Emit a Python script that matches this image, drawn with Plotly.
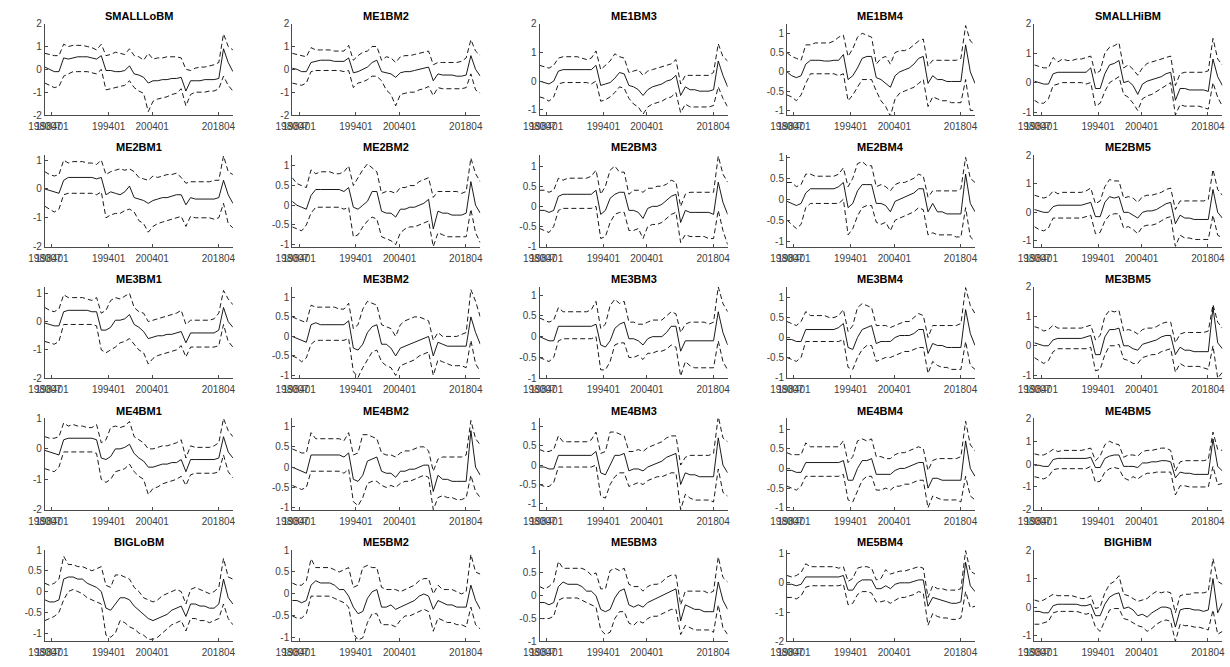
import plotly.graph_objects as go

# time index along the sample (common grid for all portfolios)
t_index = [0, 2.5, 5, 7.5, 10, 12.5, 15, 17.5, 20, 22.5, 25, 27.5, 30, 32.5, 35, 37.5, 40,
           42.5, 45, 47.5, 50, 52.5, 55, 57.5, 60, 62.5, 65, 67.5, 70, 72.5, 75, 77.5, 80,
           82.5, 85, 87.5, 90, 92.5, 95, 97.5, 100]
tick_pos = [0, 3.7, 33.9, 57.1, 92.3]
tick_labels = ["198007", "198401", "199401", "200401", "201804"]

titles = ["SMALLLoBM", "ME1BM2", "ME1BM3", "ME1BM4", "SMALLHiBM",
          "ME2BM1", "ME2BM2", "ME2BM3", "ME2BM4", "ME2BM5",
          "ME3BM1", "ME3BM2", "ME3BM3", "ME3BM4", "ME3BM5",
          "ME4BM1", "ME4BM2", "ME4BM3", "ME4BM4", "ME4BM5",
          "BIGLoBM", "ME5BM2", "ME5BM3", "ME5BM4", "BIGHiBM"]

SMALLLoBM_mid = [0.1, 0.0, -0.1, -0.1, 0.5, 0.45, 0.5, 0.55, 0.55, 0.55, 0.5, 0.45, 0.6, -0.05, -0.05, -0.1, -0.1, -0.05, 0.15, -0.2, -0.25, -0.35, -0.6, -0.5, -0.5, -0.45, -0.45, -0.4, -0.4, -0.35, -0.95, -0.5, -0.5, -0.5, -0.45, -0.45, -0.45, -0.4, 0.9, 0.3, -0.1]
SMALLLoBM_up = [0.7, 0.65, 0.6, 0.6, 1.1, 1.0, 1.05, 1.05, 1.05, 1.0, 0.95, 0.85, 1.1, 0.6, 0.65, 0.75, 0.7, 0.65, 0.9, 0.6, 0.55, 0.4, 0.7, 0.45, 0.5, 0.5, 0.55, 0.55, 0.55, 0.5, 0.0, -0.05, 0.05, 0.1, 0.1, 0.15, 0.2, 0.3, 1.55, 1.0, 0.85]
SMALLLoBM_lo = [-0.6, -0.7, -0.8, -0.75, -0.3, -0.2, -0.1, -0.1, -0.1, -0.1, -0.15, -0.2, 0.0, -0.9, -0.85, -0.8, -0.75, -0.7, -0.5, -0.8, -0.95, -1.05, -1.85, -1.4, -1.3, -1.25, -1.2, -1.1, -1.05, -0.85, -1.6, -1.1, -1.0, -1.0, -1.0, -0.95, -0.95, -0.85, -0.3, -0.7, -0.95]

ME1BM2_mid = [0.05, 0.0, -0.1, -0.1, 0.3, 0.35, 0.4, 0.4, 0.4, 0.35, 0.35, 0.35, 0.5, -0.15, -0.1, 0.0, 0.1, 0.3, 0.4, -0.1, -0.15, -0.2, -0.35, -0.15, -0.1, -0.1, -0.05, 0.0, 0.05, 0.1, -0.5, -0.2, -0.25, -0.25, -0.25, -0.3, -0.3, -0.25, 0.6, 0.0, -0.3]
ME1BM2_up = [0.7, 0.65, 0.6, 0.55, 0.95, 0.85, 0.85, 0.85, 0.85, 0.8, 0.8, 0.8, 1.05, 0.4, 0.6, 0.75, 0.8, 1.0, 1.0, 0.4, 0.55, 0.5, 0.3, 0.55, 0.6, 0.6, 0.65, 0.7, 0.75, 0.8, 0.2, 0.3, 0.3, 0.3, 0.3, 0.3, 0.35, 0.5, 1.3, 0.8, 0.6]
ME1BM2_lo = [-0.6, -0.65, -0.7, -0.6, -0.1, -0.05, -0.05, -0.05, -0.05, -0.05, -0.05, -0.1, -0.05, -0.8, -0.6, -0.55, -0.45, -0.3, -0.3, -0.5, -0.9, -1.1, -1.6, -1.1, -1.05, -1.0, -1.0, -0.9, -0.85, -0.75, -1.15, -0.8, -0.85, -0.85, -0.85, -0.85, -0.85, -0.8, -0.2, -0.9, -1.05]

ME1BM3_mid = [0.0, -0.05, -0.1, 0.0, 0.35, 0.4, 0.4, 0.4, 0.4, 0.4, 0.4, 0.4, 0.55, -0.15, -0.1, -0.05, 0.1, 0.3, 0.25, -0.15, -0.2, -0.3, -0.5, -0.3, -0.2, -0.15, -0.1, 0.0, 0.05, 0.2, -0.5, -0.2, -0.3, -0.3, -0.35, -0.35, -0.35, -0.3, 0.7, 0.2, -0.2]
ME1BM3_up = [0.55, 0.5, 0.45, 0.55, 0.8, 0.85, 0.85, 0.85, 0.85, 0.8, 0.75, 0.8, 1.05, 0.4, 0.55, 0.7, 0.95, 0.85, 0.8, 0.3, 0.35, 0.4, 0.2, 0.35, 0.4, 0.45, 0.5, 0.55, 0.6, 0.75, -0.1, 0.2, 0.2, 0.2, 0.2, 0.2, 0.2, 0.3, 1.3, 0.85, 0.7]
ME1BM3_lo = [-0.55, -0.6, -0.7, -0.55, -0.1, -0.05, -0.05, -0.05, -0.05, -0.05, -0.05, -0.1, 0.0, -0.7, -0.65, -0.55, -0.4, -0.2, -0.25, -0.6, -0.8, -0.9, -1.15, -0.9, -0.8, -0.75, -0.7, -0.6, -0.55, -0.4, -1.1, -0.8, -0.9, -0.9, -0.9, -0.9, -0.9, -0.85, -0.2, -0.6, -0.9]

ME1BM4_mid = [0.0, -0.1, -0.15, -0.1, 0.2, 0.3, 0.3, 0.3, 0.28, 0.28, 0.3, 0.3, 0.45, -0.2, -0.1, 0.1, 0.35, 0.4, 0.4, -0.15, -0.2, -0.3, -0.4, -0.1, 0.0, 0.05, 0.1, 0.2, 0.35, 0.4, -0.3, -0.1, -0.2, -0.2, -0.25, -0.25, -0.25, -0.25, 0.7, 0.0, -0.3]
ME1BM4_up = [0.5, 0.4, 0.35, 0.3, 0.7, 0.7, 0.75, 0.75, 0.75, 0.75, 0.8, 0.9, 0.95, 0.4, 0.6, 0.9, 1.0, 0.95, 0.9, 0.2, 0.35, 0.4, 0.2, 0.5, 0.55, 0.55, 0.6, 0.7, 0.8, 0.85, 0.15, 0.3, 0.3, 0.3, 0.3, 0.3, 0.3, 0.35, 1.2, 0.8, 0.7]
ME1BM4_lo = [-0.6, -0.65, -0.75, -0.6, -0.3, -0.05, -0.05, -0.05, -0.05, -0.05, -0.05, -0.1, -0.05, -0.75, -0.6, -0.4, -0.2, -0.2, -0.2, -0.5, -0.75, -0.9, -1.15, -0.7, -0.55, -0.5, -0.45, -0.4, -0.3, -0.2, -0.9, -0.65, -0.7, -0.75, -0.75, -0.8, -0.8, -0.8, -0.2, -1.0, -1.0]

SMALLHiBM_mid = [0.05, 0.0, -0.05, -0.05, 0.3, 0.35, 0.35, 0.35, 0.35, 0.35, 0.35, 0.35, 0.5, -0.2, -0.2, 0.3, 0.6, 0.65, 0.75, 0.0, 0.05, -0.1, -0.4, -0.05, 0.05, 0.1, 0.15, 0.2, 0.3, 0.35, -0.6, -0.2, -0.2, -0.25, -0.25, -0.25, -0.25, -0.3, 0.8, 0.2, -0.1]
SMALLHiBM_up = [0.6, 0.55, 0.5, 0.5, 0.85, 0.7, 0.8, 0.75, 0.75, 0.8, 0.8, 0.85, 0.9, 0.3, 0.4, 1.0, 1.2, 1.25, 1.35, 0.5, 0.6, 0.45, 0.25, 0.5, 0.65, 0.7, 0.75, 0.8, 0.85, 0.9, -0.1, 0.3, 0.35, 0.35, 0.35, 0.35, 0.35, 0.4, 1.5, 0.8, 0.6]
SMALLHiBM_lo = [-0.6, -0.7, -0.7, -0.55, -0.1, -0.05, 0.0, 0.0, 0.0, 0.0, 0.0, -0.05, 0.0, -0.8, -0.7, -0.3, 0.0, 0.1, 0.2, -0.4, -0.5, -0.7, -0.95, -0.55, -0.45, -0.4, -0.3, -0.2, -0.1, 0.0, -1.1, -0.75, -0.8, -0.8, -0.8, -0.8, -0.85, -0.9, 0.0, -0.5, -0.8]

ME2BM1_mid = [0.0, -0.05, -0.1, -0.15, 0.3, 0.4, 0.4, 0.4, 0.4, 0.4, 0.4, 0.35, 0.4, -0.2, -0.1, -0.15, -0.2, -0.1, 0.1, -0.3, -0.35, -0.4, -0.5, -0.4, -0.35, -0.3, -0.3, -0.25, -0.2, -0.2, -0.55, -0.3, -0.35, -0.35, -0.35, -0.35, -0.35, -0.3, 0.3, -0.2, -0.5]
ME2BM1_up = [0.6, 0.5, 0.45, 0.5, 1.0, 0.9, 0.95, 0.95, 0.95, 0.9, 0.9, 0.85, 1.0, 0.5, 0.6, 0.65, 0.7, 0.65, 0.7, 0.6, 0.4, 0.35, 0.3, 0.45, 0.4, 0.45, 0.5, 0.5, 0.55, 0.4, 0.2, 0.25, 0.25, 0.25, 0.25, 0.25, 0.3, 0.3, 1.15, 0.6, 0.5]
ME2BM1_lo = [-0.6, -0.7, -0.8, -0.7, -0.2, -0.15, -0.15, -0.15, -0.15, -0.15, -0.15, -0.2, -0.1, -1.0, -0.9, -0.85, -0.85, -0.75, -0.7, -0.8, -1.1, -1.2, -1.5, -1.3, -1.2, -1.15, -1.1, -1.05, -1.0, -0.95, -1.3, -0.95, -1.0, -1.0, -1.0, -1.0, -1.05, -1.0, -0.5, -1.2, -1.35]

ME2BM2_mid = [0.1, 0.0, -0.05, -0.1, 0.25, 0.4, 0.4, 0.4, 0.4, 0.4, 0.4, 0.35, 0.45, -0.05, -0.1, 0.0, 0.1, 0.35, 0.35, -0.15, -0.2, -0.2, -0.3, -0.1, -0.1, -0.05, -0.05, 0.0, 0.05, 0.15, -0.6, -0.15, -0.2, -0.2, -0.25, -0.25, -0.25, -0.2, 0.6, 0.0, -0.2]
ME2BM2_up = [0.7, 0.55, 0.5, 0.45, 0.9, 0.8, 0.85, 0.85, 0.85, 0.8, 0.8, 0.85, 1.0, 0.5, 0.7, 0.9, 1.05, 0.95, 0.85, 0.3, 0.35, 0.35, 0.3, 0.45, 0.45, 0.5, 0.5, 0.6, 0.65, 0.7, 0.2, 0.35, 0.35, 0.35, 0.35, 0.35, 0.3, 0.35, 1.2, 0.8, 0.6]
ME2BM2_lo = [-0.55, -0.6, -0.65, -0.5, -0.2, -0.05, -0.05, -0.05, -0.05, -0.05, -0.05, -0.1, -0.05, -0.8, -0.75, -0.55, -0.4, -0.3, -0.35, -0.8, -0.85, -0.9, -1.0, -0.7, -0.6, -0.55, -0.55, -0.5, -0.45, -0.4, -1.05, -0.7, -0.75, -0.8, -0.8, -0.8, -0.8, -0.8, -0.1, -0.7, -0.95]

ME2BM3_mid = [-0.1, -0.1, -0.15, -0.1, 0.25, 0.3, 0.3, 0.3, 0.3, 0.3, 0.3, 0.3, 0.4, -0.2, -0.1, 0.2, 0.3, 0.35, 0.35, -0.1, -0.1, -0.15, -0.3, -0.05, 0.0, 0.0, 0.05, 0.15, 0.25, 0.3, -0.4, -0.1, -0.15, -0.15, -0.15, -0.15, -0.15, -0.2, 0.6, 0.1, -0.2]
ME2BM3_up = [0.4, 0.4, 0.35, 0.4, 0.7, 0.65, 0.7, 0.7, 0.7, 0.7, 0.7, 0.75, 0.9, 0.3, 0.5, 0.9, 1.0, 0.85, 0.85, 0.3, 0.4, 0.4, 0.35, 0.45, 0.45, 0.5, 0.5, 0.55, 0.65, 0.6, 0.0, 0.3, 0.35, 0.35, 0.35, 0.35, 0.35, 0.35, 1.25, 0.8, 0.6]
ME2BM3_lo = [-0.55, -0.6, -0.65, -0.5, -0.1, -0.05, -0.05, -0.05, -0.05, -0.05, -0.05, -0.05, 0.0, -0.8, -0.75, -0.4, -0.2, -0.15, -0.15, -0.6, -0.6, -0.55, -0.8, -0.5, -0.45, -0.45, -0.4, -0.3, -0.2, -0.15, -0.9, -0.7, -0.75, -0.75, -0.75, -0.75, -0.8, -0.8, -0.1, -0.6, -0.95]

ME2BM4_mid = [-0.05, -0.1, -0.15, -0.1, 0.15, 0.25, 0.25, 0.25, 0.25, 0.25, 0.25, 0.3, 0.4, -0.2, -0.1, 0.2, 0.35, 0.35, 0.35, -0.1, -0.1, -0.15, -0.3, -0.05, 0.0, 0.05, 0.1, 0.15, 0.25, 0.25, -0.3, -0.1, -0.3, -0.3, -0.35, -0.35, -0.35, -0.35, 0.6, -0.1, -0.3]
ME2BM4_up = [0.4, 0.4, 0.3, 0.35, 0.6, 0.6, 0.55, 0.55, 0.55, 0.55, 0.55, 0.6, 0.75, 0.3, 0.5, 0.85, 0.9, 0.8, 0.8, 0.3, 0.35, 0.3, 0.2, 0.35, 0.4, 0.4, 0.45, 0.5, 0.6, 0.55, 0.05, 0.2, 0.2, 0.2, 0.2, 0.2, 0.2, 0.25, 1.0, 0.5, 0.4]
ME2BM4_lo = [-0.5, -0.6, -0.7, -0.6, -0.2, -0.1, -0.1, -0.1, -0.1, -0.1, -0.1, -0.1, 0.0, -0.85, -0.7, -0.4, -0.2, -0.15, -0.15, -0.55, -0.6, -0.55, -0.75, -0.5, -0.45, -0.4, -0.35, -0.3, -0.2, -0.25, -0.85, -0.8, -0.85, -0.85, -0.85, -0.85, -0.9, -0.9, -0.2, -0.9, -1.0]

ME2BM5_mid = [0.1, 0.05, 0.0, 0.0, 0.2, 0.25, 0.25, 0.25, 0.25, 0.25, 0.25, 0.3, 0.35, -0.15, -0.15, 0.35, 0.55, 0.5, 0.55, 0.0, 0.0, -0.1, -0.2, 0.0, 0.05, 0.05, 0.1, 0.2, 0.3, 0.35, -0.4, -0.1, -0.2, -0.2, -0.25, -0.25, -0.25, -0.25, 0.8, 0.0, -0.2]
ME2BM5_up = [0.6, 0.55, 0.5, 0.55, 0.75, 0.65, 0.7, 0.7, 0.7, 0.7, 0.7, 0.75, 0.85, 0.3, 0.4, 0.9, 1.15, 1.1, 1.1, 0.5, 0.55, 0.5, 0.35, 0.55, 0.6, 0.6, 0.65, 0.7, 0.8, 0.85, 0.1, 0.4, 0.4, 0.4, 0.4, 0.4, 0.4, 0.45, 1.5, 0.8, 0.6]
ME2BM5_lo = [-0.5, -0.6, -0.65, -0.55, -0.2, -0.2, -0.2, -0.2, -0.2, -0.2, -0.2, -0.15, -0.1, -0.75, -0.7, -0.3, -0.1, -0.05, -0.05, -0.55, -0.5, -0.6, -0.75, -0.5, -0.45, -0.45, -0.4, -0.3, -0.2, -0.15, -1.2, -0.8, -0.9, -0.9, -0.95, -0.95, -0.95, -0.95, -0.1, -0.8, -0.9]

ME3BM1_mid = [-0.05, -0.1, -0.15, -0.15, 0.35, 0.4, 0.4, 0.4, 0.4, 0.4, 0.35, 0.35, -0.3, -0.3, -0.2, 0.05, 0.05, 0.1, 0.25, -0.1, -0.2, -0.35, -0.6, -0.55, -0.5, -0.5, -0.45, -0.45, -0.4, -0.35, -0.75, -0.4, -0.4, -0.4, -0.4, -0.4, -0.4, -0.3, 0.5, 0.0, -0.2]
ME3BM1_up = [0.5, 0.4, 0.35, 0.45, 0.95, 0.85, 0.85, 0.85, 0.85, 0.8, 0.75, 0.85, 0.3, 0.4, 0.75, 0.85, 0.8, 0.9, 1.0, 0.5, 0.35, 0.3, 0.0, 0.05, 0.1, 0.15, 0.2, 0.25, 0.3, 0.4, -0.1, 0.05, 0.05, 0.05, 0.05, 0.05, 0.1, 0.3, 1.1, 0.8, 0.6]
ME3BM1_lo = [-0.7, -0.75, -0.8, -0.7, -0.1, -0.1, -0.1, -0.1, -0.1, -0.1, -0.1, -0.15, -1.0, -1.1, -1.0, -0.9, -0.75, -0.7, -0.6, -0.8, -1.0, -1.1, -1.5, -1.3, -1.2, -1.15, -1.1, -1.05, -1.0, -0.85, -1.25, -0.9, -0.9, -0.9, -0.9, -0.9, -0.9, -0.85, -0.1, -0.7, -0.9]

ME3BM2_mid = [0.0, -0.05, -0.1, -0.15, 0.3, 0.35, 0.3, 0.3, 0.3, 0.3, 0.3, 0.3, 0.4, -0.3, -0.35, -0.2, 0.1, 0.25, 0.3, -0.2, -0.2, -0.3, -0.5, -0.3, -0.25, -0.2, -0.15, -0.1, -0.05, 0.0, -0.5, -0.15, -0.2, -0.25, -0.25, -0.25, -0.25, -0.25, 0.5, 0.1, -0.2]
ME3BM2_up = [0.5, 0.45, 0.4, 0.35, 0.8, 0.75, 0.75, 0.75, 0.75, 0.75, 0.7, 0.7, 0.85, 0.2, 0.3, 0.7, 0.9, 0.85, 0.8, 0.3, 0.25, 0.2, 0.0, 0.3, 0.4, 0.45, 0.5, 0.5, 0.45, 0.4, -0.1, 0.1, 0.0, 0.0, 0.0, 0.0, 0.05, 0.1, 1.2, 0.9, 0.5]
ME3BM2_lo = [-0.5, -0.55, -0.65, -0.55, -0.2, -0.1, -0.1, -0.1, -0.1, -0.1, -0.1, -0.1, -0.05, -0.9, -1.05, -0.8, -0.6, -0.4, -0.35, -0.65, -0.75, -0.8, -1.0, -0.75, -0.7, -0.65, -0.6, -0.5, -0.45, -0.4, -1.0, -0.6, -0.65, -0.7, -0.75, -0.75, -0.75, -0.8, -0.1, -0.7, -0.9]

ME3BM3_mid = [0.0, -0.05, -0.1, -0.1, 0.25, 0.25, 0.25, 0.25, 0.25, 0.25, 0.25, 0.25, 0.3, -0.2, -0.25, -0.1, 0.2, 0.3, 0.35, -0.05, -0.05, -0.1, -0.2, -0.05, 0.0, 0.0, 0.0, 0.1, 0.25, 0.25, -0.35, -0.1, -0.1, -0.1, -0.1, -0.1, -0.1, -0.1, 0.6, 0.1, -0.2]
ME3BM3_up = [0.45, 0.4, 0.35, 0.4, 0.7, 0.6, 0.6, 0.6, 0.6, 0.6, 0.6, 0.65, 0.85, 0.2, 0.3, 0.75, 0.9, 0.8, 0.85, 0.35, 0.35, 0.3, 0.3, 0.35, 0.4, 0.4, 0.4, 0.5, 0.6, 0.55, 0.1, 0.3, 0.35, 0.35, 0.35, 0.35, 0.3, 0.35, 1.2, 0.8, 0.6]
ME3BM3_lo = [-0.5, -0.55, -0.6, -0.5, -0.1, -0.05, -0.05, -0.05, -0.05, -0.05, -0.05, -0.05, 0.0, -0.8, -0.8, -0.6, -0.2, -0.15, -0.15, -0.5, -0.5, -0.45, -0.55, -0.4, -0.4, -0.35, -0.35, -0.3, -0.2, -0.25, -0.95, -0.6, -0.7, -0.75, -0.75, -0.75, -0.75, -0.75, -0.1, -0.6, -0.8]

ME3BM4_mid = [-0.05, -0.05, -0.1, -0.1, 0.2, 0.2, 0.2, 0.2, 0.2, 0.2, 0.2, 0.25, 0.35, -0.25, -0.3, 0.0, 0.2, 0.25, 0.3, -0.15, -0.1, -0.1, -0.1, 0.0, 0.05, 0.05, 0.05, 0.1, 0.2, 0.2, -0.4, -0.15, -0.2, -0.2, -0.25, -0.25, -0.25, -0.25, 0.7, 0.1, -0.2]
ME3BM4_up = [0.4, 0.35, 0.3, 0.4, 0.65, 0.55, 0.55, 0.55, 0.55, 0.5, 0.5, 0.55, 0.7, 0.15, 0.3, 0.75, 0.85, 0.8, 0.75, 0.3, 0.3, 0.3, 0.25, 0.3, 0.35, 0.4, 0.4, 0.5, 0.6, 0.55, 0.0, 0.3, 0.3, 0.3, 0.3, 0.3, 0.3, 0.35, 1.25, 0.8, 0.6]
ME3BM4_lo = [-0.5, -0.55, -0.6, -0.5, -0.1, -0.1, -0.1, -0.1, -0.1, -0.1, -0.1, -0.1, -0.05, -0.75, -0.8, -0.5, -0.3, -0.2, -0.2, -0.6, -0.55, -0.5, -0.5, -0.45, -0.4, -0.35, -0.35, -0.3, -0.25, -0.25, -0.9, -0.6, -0.7, -0.75, -0.75, -0.8, -0.8, -0.8, -0.1, -0.7, -0.8]

ME3BM5_mid = [0.1, 0.05, 0.0, 0.0, 0.2, 0.25, 0.25, 0.25, 0.25, 0.25, 0.25, 0.3, 0.35, -0.3, -0.3, 0.3, 0.55, 0.55, 0.6, 0.0, 0.0, -0.1, -0.15, 0.05, 0.1, 0.15, 0.2, 0.3, 0.35, 0.35, -0.3, -0.05, -0.15, -0.15, -0.2, -0.2, -0.2, -0.2, 1.3, 0.1, -0.1]
ME3BM5_up = [0.65, 0.6, 0.5, 0.55, 0.7, 0.6, 0.6, 0.6, 0.6, 0.6, 0.6, 0.65, 0.7, 0.2, 0.35, 1.0, 1.2, 1.15, 1.2, 0.5, 0.55, 0.5, 0.4, 0.55, 0.6, 0.6, 0.65, 0.75, 0.8, 0.8, 0.1, 0.4, 0.45, 0.45, 0.45, 0.45, 0.45, 0.5, 1.4, 0.8, 0.6]
ME3BM5_lo = [-0.4, -0.5, -0.6, -0.5, -0.2, -0.1, -0.1, -0.1, -0.1, -0.1, -0.1, -0.1, -0.05, -0.85, -0.8, -0.3, 0.0, 0.0, 0.05, -0.45, -0.5, -0.6, -0.6, -0.4, -0.35, -0.3, -0.3, -0.2, -0.15, -0.1, -0.9, -0.6, -0.7, -0.7, -0.7, -0.7, -0.75, -0.8, 0.0, -1.1, -0.9]

ME4BM1_mid = [-0.05, -0.1, -0.15, -0.2, 0.3, 0.35, 0.35, 0.35, 0.35, 0.35, 0.35, 0.3, -0.3, -0.35, -0.25, 0.0, 0.0, 0.05, 0.15, -0.15, -0.3, -0.4, -0.6, -0.6, -0.55, -0.5, -0.5, -0.45, -0.45, -0.35, -0.75, -0.35, -0.35, -0.35, -0.35, -0.35, -0.35, -0.3, 0.4, -0.1, -0.3]
ME4BM1_up = [0.4, 0.35, 0.35, 0.4, 0.85, 0.75, 0.8, 0.75, 0.75, 0.7, 0.7, 0.8, 0.2, 0.3, 0.7, 0.75, 0.7, 0.75, 0.9, 0.4, 0.3, 0.2, 0.0, 0.0, 0.05, 0.1, 0.1, 0.15, 0.2, 0.3, -0.3, 0.1, 0.05, 0.05, 0.05, 0.05, 0.1, 0.2, 1.0, 0.6, 0.4]
ME4BM1_lo = [-0.65, -0.7, -0.75, -0.6, -0.1, -0.1, -0.1, -0.1, -0.1, -0.1, -0.1, -0.15, -1.0, -1.1, -1.0, -0.75, -0.7, -0.65, -0.5, -0.75, -0.9, -1.0, -1.5, -1.3, -1.25, -1.15, -1.1, -1.05, -1.0, -0.9, -1.2, -0.85, -0.8, -0.8, -0.8, -0.8, -0.8, -0.75, -0.2, -0.75, -0.95]

ME4BM2_mid = [0.0, -0.05, -0.1, -0.15, 0.3, 0.3, 0.3, 0.3, 0.3, 0.3, 0.3, 0.25, 0.35, -0.3, -0.35, -0.2, 0.15, 0.2, 0.25, -0.1, -0.15, -0.15, -0.25, -0.1, -0.1, -0.05, -0.05, 0.0, 0.05, 0.05, -0.6, -0.2, -0.3, -0.3, -0.35, -0.35, -0.35, -0.35, 0.9, 0.0, -0.2]
ME4BM2_up = [0.45, 0.4, 0.35, 0.35, 0.85, 0.7, 0.7, 0.7, 0.7, 0.7, 0.7, 0.65, 0.85, 0.3, 0.35, 0.8, 0.8, 0.75, 0.7, 0.35, 0.3, 0.3, 0.25, 0.35, 0.4, 0.4, 0.45, 0.5, 0.5, 0.4, -0.1, 0.2, 0.25, 0.25, 0.25, 0.25, 0.25, 0.3, 1.15, 0.7, 0.55]
ME4BM2_lo = [-0.45, -0.5, -0.55, -0.5, -0.1, -0.1, -0.1, -0.1, -0.1, -0.1, -0.1, -0.15, -0.05, -0.85, -0.95, -0.75, -0.4, -0.35, -0.35, -0.45, -0.5, -0.45, -0.5, -0.4, -0.35, -0.35, -0.3, -0.25, -0.2, -0.25, -1.05, -0.75, -0.7, -0.75, -0.75, -0.8, -0.8, -0.75, -0.2, -0.6, -0.75]

ME4BM3_mid = [-0.05, -0.05, -0.1, -0.1, 0.25, 0.25, 0.25, 0.25, 0.25, 0.25, 0.25, 0.25, 0.35, -0.2, -0.25, 0.0, 0.25, 0.25, 0.3, -0.15, -0.1, -0.1, -0.15, -0.05, 0.0, 0.05, 0.1, 0.2, 0.25, 0.3, -0.5, -0.2, -0.25, -0.25, -0.3, -0.3, -0.3, -0.3, 0.7, 0.0, -0.2]
ME4BM3_up = [0.4, 0.35, 0.35, 0.4, 0.75, 0.6, 0.6, 0.6, 0.6, 0.6, 0.6, 0.65, 0.85, 0.3, 0.35, 0.85, 0.85, 0.8, 0.75, 0.35, 0.35, 0.4, 0.35, 0.45, 0.5, 0.55, 0.6, 0.7, 0.75, 0.75, 0.0, 0.2, 0.25, 0.25, 0.25, 0.25, 0.25, 0.3, 1.25, 0.7, 0.6]
ME4BM3_lo = [-0.5, -0.55, -0.55, -0.45, -0.05, -0.05, -0.05, -0.05, -0.05, -0.05, -0.05, -0.05, 0.0, -0.8, -0.85, -0.5, -0.3, -0.2, -0.2, -0.55, -0.5, -0.45, -0.5, -0.4, -0.35, -0.3, -0.3, -0.25, -0.2, -0.2, -1.15, -0.75, -0.85, -0.9, -0.9, -0.9, -0.9, -0.95, -0.1, -0.7, -0.8]

ME4BM4_mid = [-0.05, -0.05, -0.1, -0.1, 0.15, 0.15, 0.15, 0.15, 0.15, 0.15, 0.15, 0.15, 0.2, -0.3, -0.3, 0.0, 0.2, 0.2, 0.25, -0.15, -0.15, -0.15, -0.15, -0.05, 0.0, 0.0, 0.05, 0.1, 0.15, 0.15, -0.5, -0.25, -0.25, -0.3, -0.3, -0.3, -0.3, -0.3, 0.7, 0.0, -0.2]
ME4BM4_up = [0.4, 0.35, 0.35, 0.35, 0.65, 0.55, 0.55, 0.55, 0.55, 0.55, 0.55, 0.55, 0.7, 0.15, 0.3, 0.7, 0.75, 0.7, 0.75, 0.3, 0.3, 0.25, 0.25, 0.35, 0.4, 0.4, 0.45, 0.5, 0.55, 0.5, -0.05, 0.2, 0.25, 0.25, 0.25, 0.25, 0.25, 0.3, 1.2, 0.6, 0.45]
ME4BM4_lo = [-0.45, -0.5, -0.55, -0.45, -0.2, -0.2, -0.2, -0.2, -0.2, -0.2, -0.2, -0.2, -0.15, -0.8, -0.85, -0.55, -0.3, -0.2, -0.2, -0.55, -0.55, -0.5, -0.55, -0.45, -0.45, -0.4, -0.4, -0.35, -0.3, -0.3, -1.0, -0.7, -0.75, -0.8, -0.8, -0.8, -0.8, -0.85, -0.2, -0.7, -0.8]

ME4BM5_mid = [-0.05, -0.05, -0.1, -0.1, 0.2, 0.25, 0.25, 0.25, 0.25, 0.25, 0.25, 0.25, 0.3, -0.15, -0.15, 0.25, 0.35, 0.4, 0.4, -0.1, -0.1, -0.1, -0.15, 0.05, 0.05, 0.1, 0.1, 0.15, 0.15, 0.1, -0.6, -0.35, -0.4, -0.4, -0.45, -0.45, -0.45, -0.45, 1.1, -0.1, -0.3]
ME4BM5_up = [0.45, 0.4, 0.4, 0.5, 0.65, 0.55, 0.6, 0.6, 0.6, 0.6, 0.6, 0.65, 0.7, 0.15, 0.35, 0.85, 1.0, 0.9, 0.85, 0.3, 0.4, 0.4, 0.35, 0.55, 0.6, 0.6, 0.65, 0.7, 0.7, 0.6, -0.3, 0.1, 0.15, 0.15, 0.15, 0.15, 0.15, 0.2, 1.4, 0.65, 0.6]
ME4BM5_lo = [-0.55, -0.6, -0.65, -0.55, -0.25, -0.2, -0.2, -0.2, -0.2, -0.2, -0.2, -0.2, -0.1, -0.8, -0.75, -0.35, -0.2, -0.15, -0.2, -0.6, -0.7, -0.55, -0.65, -0.5, -0.4, -0.4, -0.35, -0.35, -0.35, -0.35, -1.35, -0.95, -0.95, -1.0, -1.0, -1.0, -1.0, -1.0, -0.1, -0.9, -0.85]

BIGLoBM_mid = [-0.2, -0.25, -0.25, -0.2, 0.3, 0.35, 0.35, 0.3, 0.3, 0.2, 0.15, 0.1, 0.0, -0.4, -0.45, -0.3, -0.15, -0.15, -0.2, -0.35, -0.45, -0.55, -0.65, -0.7, -0.65, -0.6, -0.55, -0.45, -0.4, -0.35, -0.6, -0.3, -0.3, -0.35, -0.35, -0.4, -0.4, -0.3, 0.3, -0.15, -0.3]
BIGLoBM_up = [0.2, 0.15, 0.2, 0.3, 0.85, 0.65, 0.65, 0.6, 0.6, 0.55, 0.5, 0.55, 0.6, 0.15, 0.1, 0.4, 0.4, 0.35, 0.3, 0.1, 0.0, -0.15, -0.2, -0.25, -0.2, -0.1, -0.05, 0.0, 0.05, 0.0, -0.3, 0.05, 0.1, 0.05, 0.0, -0.05, 0.0, 0.1, 0.8, 0.35, 0.3]
BIGLoBM_lo = [-0.7, -0.65, -0.6, -0.5, -0.2, 0.0, 0.05, 0.0, -0.05, -0.15, -0.2, -0.25, -0.3, -1.05, -1.1, -1.0, -0.7, -0.75, -0.85, -0.9, -1.0, -1.05, -1.15, -1.15, -1.1, -1.0, -0.9, -0.8, -0.75, -0.7, -0.95, -0.65, -0.65, -0.7, -0.7, -0.75, -0.7, -0.65, -0.3, -0.65, -0.8]

ME5BM2_mid = [-0.15, -0.15, -0.2, -0.15, 0.2, 0.3, 0.25, 0.25, 0.25, 0.2, 0.1, 0.1, -0.05, -0.3, -0.45, -0.4, -0.1, 0.05, 0.1, -0.3, -0.3, -0.25, -0.35, -0.3, -0.25, -0.2, -0.15, -0.05, 0.0, -0.05, -0.35, -0.15, -0.2, -0.25, -0.25, -0.3, -0.3, -0.3, 0.2, -0.15, -0.35]
ME5BM2_up = [0.25, 0.2, 0.2, 0.3, 0.8, 0.6, 0.6, 0.6, 0.6, 0.55, 0.5, 0.55, 0.6, 0.15, 0.2, 0.6, 0.65, 0.6, 0.6, 0.15, 0.1, 0.1, 0.1, 0.05, 0.1, 0.15, 0.2, 0.3, 0.35, 0.35, 0.0, 0.2, 0.1, 0.1, 0.1, 0.05, 0.0, 0.05, 0.9, 0.5, 0.45]
ME5BM2_lo = [-0.5, -0.55, -0.55, -0.45, -0.05, -0.05, -0.05, -0.05, -0.05, -0.1, -0.15, -0.2, -0.3, -0.9, -1.05, -1.0, -0.65, -0.45, -0.45, -0.7, -0.7, -0.7, -0.75, -0.6, -0.5, -0.5, -0.45, -0.4, -0.35, -0.4, -0.85, -0.55, -0.6, -0.65, -0.65, -0.7, -0.7, -0.75, -0.3, -0.7, -0.8]

ME5BM3_mid = [-0.15, -0.15, -0.2, -0.15, 0.2, 0.3, 0.25, 0.25, 0.25, 0.2, 0.1, 0.1, 0.0, -0.3, -0.35, -0.3, -0.05, 0.1, 0.15, -0.2, -0.25, -0.2, -0.25, -0.15, -0.1, -0.05, 0.0, 0.05, 0.1, 0.15, -0.55, -0.2, -0.25, -0.3, -0.3, -0.35, -0.35, -0.35, 0.3, -0.1, -0.3]
ME5BM3_up = [0.2, 0.15, 0.2, 0.3, 0.75, 0.6, 0.6, 0.6, 0.6, 0.6, 0.55, 0.45, 0.5, 0.15, 0.15, 0.55, 0.6, 0.55, 0.6, 0.25, 0.2, 0.2, 0.1, 0.2, 0.25, 0.25, 0.3, 0.4, 0.45, 0.45, -0.2, 0.1, 0.1, 0.1, 0.1, 0.1, 0.05, 0.1, 0.85, 0.4, 0.3]
ME5BM3_lo = [-0.5, -0.5, -0.5, -0.45, -0.1, -0.05, -0.05, -0.05, -0.05, -0.1, -0.15, -0.2, -0.25, -0.75, -0.85, -0.8, -0.5, -0.35, -0.35, -0.6, -0.65, -0.55, -0.6, -0.5, -0.45, -0.45, -0.4, -0.35, -0.3, -0.3, -0.85, -0.65, -0.7, -0.75, -0.75, -0.75, -0.75, -0.8, -0.2, -0.7, -0.85]

ME5BM4_mid = [-0.05, -0.05, -0.1, -0.05, 0.2, 0.2, 0.2, 0.2, 0.2, 0.2, 0.2, 0.2, 0.25, -0.25, -0.25, 0.0, 0.1, 0.1, 0.1, -0.2, -0.2, -0.1, -0.2, -0.05, 0.0, 0.0, 0.0, 0.05, 0.1, 0.1, -0.8, -0.5, -0.55, -0.6, -0.65, -0.7, -0.7, -0.65, 0.7, -0.1, -0.3]
ME5BM4_up = [0.25, 0.2, 0.25, 0.35, 0.65, 0.55, 0.55, 0.55, 0.55, 0.55, 0.55, 0.5, 0.55, 0.05, 0.15, 0.5, 0.55, 0.55, 0.5, 0.1, 0.15, 0.45, 0.3, 0.35, 0.4, 0.4, 0.45, 0.5, 0.55, 0.5, -0.5, -0.1, -0.2, -0.2, -0.25, -0.25, -0.25, -0.2, 1.1, 0.4, 0.3]
ME5BM4_lo = [-0.5, -0.5, -0.55, -0.45, -0.15, -0.1, -0.1, -0.1, -0.1, -0.1, -0.1, -0.1, -0.05, -0.75, -0.7, -0.4, -0.3, -0.3, -0.35, -0.65, -0.65, -0.6, -0.7, -0.6, -0.5, -0.5, -0.45, -0.4, -0.3, -0.35, -1.45, -1.05, -1.15, -1.2, -1.2, -1.25, -1.25, -1.2, -0.3, -0.85, -0.8]

BIGHiBM_mid = [-0.15, -0.15, -0.2, -0.2, 0.05, 0.1, 0.1, 0.1, 0.1, 0.1, 0.05, 0.05, 0.1, -0.3, -0.3, 0.1, 0.35, 0.45, 0.5, -0.05, 0.0, -0.1, -0.3, -0.25, -0.35, -0.2, -0.1, 0.0, 0.0, -0.05, -0.7, -0.1, -0.05, -0.05, -0.1, -0.1, -0.15, -0.1, 1.0, -0.2, 0.15]
BIGHiBM_up = [0.25, 0.2, 0.25, 0.35, 0.45, 0.4, 0.4, 0.4, 0.4, 0.35, 0.3, 0.3, 0.4, -0.05, 0.0, 0.5, 0.8, 0.9, 1.1, 0.45, 0.4, 0.3, 0.2, 0.25, 0.3, 0.45, 0.55, 0.5, 0.55, 0.5, -0.2, 0.4, 0.45, 0.45, 0.5, 0.5, 0.5, 0.55, 1.7, 0.9, 0.8]
BIGHiBM_lo = [-0.6, -0.6, -0.55, -0.5, -0.2, -0.15, -0.15, -0.15, -0.15, -0.15, -0.2, -0.25, -0.2, -0.7, -0.85, -0.45, -0.1, -0.05, -0.05, -0.4, -0.45, -0.55, -0.65, -0.7, -0.85, -0.75, -0.6, -0.5, -0.45, -0.5, -1.2, -0.6, -0.65, -0.65, -0.7, -0.7, -0.75, -0.8, -0.1, -0.95, -0.85]

series = [
    (SMALLLoBM_mid, SMALLLoBM_up, SMALLLoBM_lo), (ME1BM2_mid, ME1BM2_up, ME1BM2_lo),
    (ME1BM3_mid, ME1BM3_up, ME1BM3_lo), (ME1BM4_mid, ME1BM4_up, ME1BM4_lo),
    (SMALLHiBM_mid, SMALLHiBM_up, SMALLHiBM_lo),
    (ME2BM1_mid, ME2BM1_up, ME2BM1_lo), (ME2BM2_mid, ME2BM2_up, ME2BM2_lo),
    (ME2BM3_mid, ME2BM3_up, ME2BM3_lo), (ME2BM4_mid, ME2BM4_up, ME2BM4_lo),
    (ME2BM5_mid, ME2BM5_up, ME2BM5_lo),
    (ME3BM1_mid, ME3BM1_up, ME3BM1_lo), (ME3BM2_mid, ME3BM2_up, ME3BM2_lo),
    (ME3BM3_mid, ME3BM3_up, ME3BM3_lo), (ME3BM4_mid, ME3BM4_up, ME3BM4_lo),
    (ME3BM5_mid, ME3BM5_up, ME3BM5_lo),
    (ME4BM1_mid, ME4BM1_up, ME4BM1_lo), (ME4BM2_mid, ME4BM2_up, ME4BM2_lo),
    (ME4BM3_mid, ME4BM3_up, ME4BM3_lo), (ME4BM4_mid, ME4BM4_up, ME4BM4_lo),
    (ME4BM5_mid, ME4BM5_up, ME4BM5_lo),
    (BIGLoBM_mid, BIGLoBM_up, BIGLoBM_lo), (ME5BM2_mid, ME5BM2_up, ME5BM2_lo),
    (ME5BM3_mid, ME5BM3_up, ME5BM3_lo), (ME5BM4_mid, ME5BM4_up, ME5BM4_lo),
    (BIGHiBM_mid, BIGHiBM_up, BIGHiBM_lo),
]

# axis styling per panel: (y range, y ticks)
T2 = [-2, -1, 0, 1, 2]
T1 = [-1, 0, 1, 2]
TH = [-1, -0.5, 0, 0.5, 1]
T21 = [-2, -1, 0, 1]
y_axes = [
    ([-2, 2], T2), ([-2, 2], T2), ([-1.18, 2], T1), ([-1.12, 1.25], TH), ([-1.1, 2], T1),
    ([-2, 1.17], T21), ([-1.05, 1.27], TH), ([-1.0, 1.27], TH), ([-1.13, 1.05], TH), ([-1.2, 2], T1),
    ([-2, 1.23], T21), ([-1.07, 1.27], TH), ([-1.0, 1.2], TH), ([-1.02, 1.27], TH), ([-1.1, 2], T1),
    ([-2, 1], T21), ([-1.05, 1.2], TH), ([-1.15, 1.2], TH), ([-1.05, 1.27], TH), ([-2, 2], T2),
    ([-1.2, 1], TH), ([-1.08, 1], TH), ([-1.0, 1], TH), ([-2, 1.12], T21), ([-1.2, 2], T1),
]

W, H = 1230, 667
PW, PH = 191, 93
AX = "#4a4a4a"
FONT = "Liberation Sans, Arial, Helvetica, sans-serif"

fig = go.Figure()
annotations = []
layout_axes = {}
for k in range(25):
    r, c = divmod(k, 5)
    x0 = 28.3 + 251.25 * c
    y0 = 18 + 134 * r
    sfx = "" if k == 0 else str(k + 1)
    xa, ya = "x" + sfx, "y" + sfx
    mid, up, lo = series[k]
    for yv, dash, w in ((up, "5px,3px", 0.9), (lo, "5px,3px", 0.9), (mid, "solid", 0.9)):
        fig.add_trace(go.Scatter(x=t_index[:len(yv)], y=yv, mode="lines", xaxis=xa, yaxis=ya,
                                 line=dict(color="#000000", width=w, dash=dash),
                                 hoverinfo="skip", showlegend=False))
    yr, yt = y_axes[k]
    layout_axes["xaxis" + sfx] = dict(
        domain=[x0 / W, (x0 + PW) / W], anchor=ya, range=[0, 100],
        showline=True, linecolor=AX, linewidth=1, mirror=False,
        showgrid=False, zeroline=False, ticks="inside", ticklen=3, tickcolor=AX,
        tickmode="array", tickvals=tick_pos, ticktext=tick_labels, tickangle=0,
        tickfont=dict(family=FONT, size=10, color="#404040"), ticklabelstandoff=2)
    layout_axes["yaxis" + sfx] = dict(
        domain=[1 - (y0 + PH) / H, 1 - y0 / H], anchor=xa, range=yr,
        showline=True, linecolor=AX, linewidth=1, mirror=False,
        showgrid=False, zeroline=False, ticks="inside", ticklen=3, tickcolor=AX,
        tickmode="array", tickvals=yt, ticktext=[f"{v:g}" for v in yt],
        tickfont=dict(family=FONT, size=10, color="#404040"))
    annotations.append(dict(
        x=(x0 + PW / 2) / W, y=1 - (y0 - 8) / H, xref="paper", yref="paper",
        text="<b>" + titles[k] + "</b>", showarrow=False, xanchor="center", yanchor="middle",
        font=dict(family=FONT, size=11, color="#000000")))

fig.update_layout(
    width=W, height=H, margin=dict(l=0, r=0, t=0, b=0),
    paper_bgcolor="white", plot_bgcolor="white", showlegend=False,
    annotations=annotations, **layout_axes)

fig.write_html("out.html")
